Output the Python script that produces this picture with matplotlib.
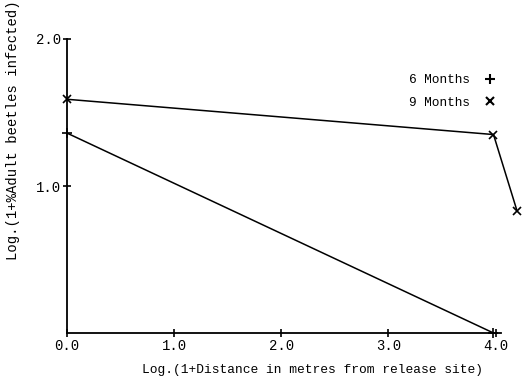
import matplotlib
matplotlib.use("Agg")
import matplotlib.pyplot as plt
from matplotlib.lines import Line2D

plt.rcParams['font.family'] = ['Liberation Mono', 'DejaVu Sans Mono']

# Data
x_6m = [0.0, 3.98]
y_6m = [1.36, 0.0]
x_9m = [0.0, 3.98, 4.2]
y_9m = [1.59, 1.35, 0.83]
xticks = [0.0, 1.0, 2.0, 3.0, 4.0]
xtick_labels = ["0.0", "1.0", "2.0", "3.0", "4.0"]
yticks = [1.0, 2.0]
ytick_labels = ["1.0", "2.0"]
series_labels = ["6 Months", "9 Months"]

fig = plt.figure(figsize=(5.24, 3.78), dpi=100)
ax = fig.add_axes([67/524, 45/378, 434/524, 294/378])

ax.plot(x_6m, y_6m, color='black', lw=1.1, marker='+', ms=7, mew=1.2, clip_on=False)
ax.plot(x_9m, y_9m, color='black', lw=1.1, marker='x', ms=6, mew=1.2, clip_on=False)

ax.set_xlim(0, 4.05)
ax.set_ylim(0, 2.0)
ax.spines['top'].set_visible(False)
ax.spines['right'].set_visible(False)
for s in ['left', 'bottom']:
    ax.spines[s].set_linewidth(1.3)
ax.set_xticks(xticks)
ax.set_xticklabels(xtick_labels)
ax.set_yticks(yticks)
ax.set_yticklabels(ytick_labels)
ax.tick_params(axis='both', direction='inout', length=6, width=1.2, labelsize=10, pad=1)

ax.set_xlabel("Log.(1+Distance in metres from release site)", fontsize=9.3)
ax.xaxis.set_label_coords(0.565, -0.105)
ax.set_ylabel("Log.(1+%Adult beetles infected)", fontsize=10)
ax.yaxis.set_label_coords(-0.108, 0.69)

handles = [Line2D([], [], color='black', ls='none', marker='+', ms=7, mew=1.5),
           Line2D([], [], color='black', ls='none', marker='x', ms=6, mew=1.5)]
ax.legend(handles, series_labels, markerfirst=False, frameon=False,
          loc='upper right', bbox_to_anchor=(1.015, 0.92), fontsize=9.2,
          handlelength=1.0, handletextpad=1.0, labelspacing=0.85)

fig.savefig("out.png", dpi=100)
